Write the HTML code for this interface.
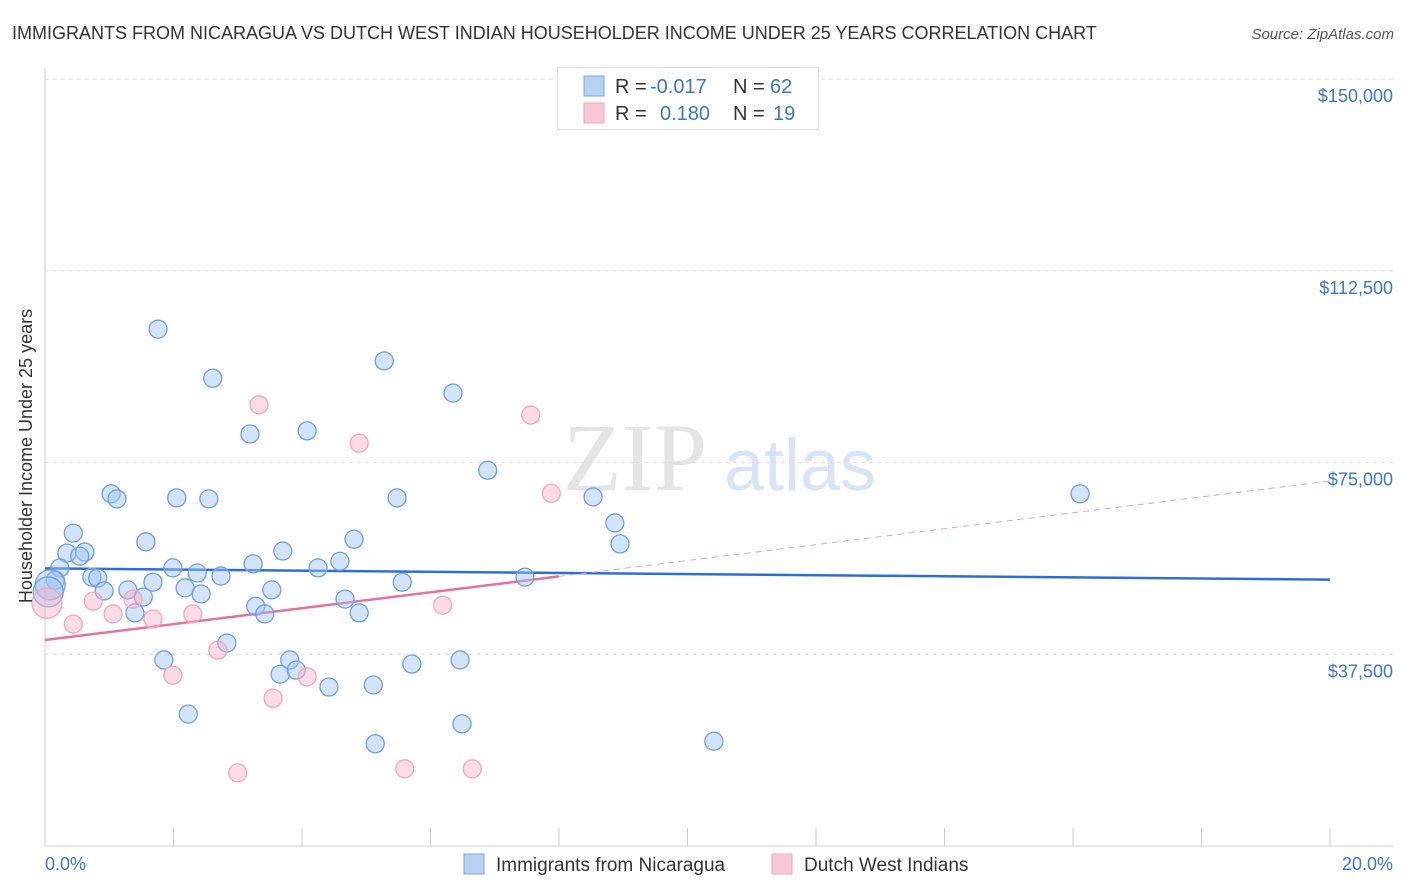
<!DOCTYPE html>
<html><head><meta charset="utf-8"><style>
body{margin:0;background:#fff;font-family:"Liberation Sans",sans-serif;}
svg{display:block}
</style></head><body>
<svg id="chart" width="1406" height="892" xmlns="http://www.w3.org/2000/svg">
<text x="12" y="39" font-size="18" fill="#333">IMMIGRANTS FROM NICARAGUA VS DUTCH WEST INDIAN HOUSEHOLDER INCOME UNDER 25 YEARS CORRELATION CHART</text>
<text x="1394" y="39" font-size="15" fill="#555" font-style="italic" text-anchor="end">Source: ZipAtlas.com</text>
<g><text x="635" y="490" font-size="96" fill="#e4e4e4" font-family="Liberation Serif,serif" text-anchor="middle">ZIP</text><text x="800" y="490" font-size="72" fill="#d6e4f6" text-anchor="middle">atlas</text></g>
<g id="grid"></g><g id="axes"></g><g id="lines"></g><g id="pts"></g>
<text x="32" y="456" font-size="18" fill="#333" text-anchor="middle" transform="rotate(-90 32 456)">Householder Income Under 25 years</text>
<text x="45" y="870" font-size="18" fill="#3a75d0">0.0%</text>
<text x="1393" y="870" font-size="18" fill="#3a75d0" text-anchor="end">20.0%</text>
<g>
<rect x="557.5" y="67.5" width="261" height="62" fill="#fff" stroke="#ddd"/>
<rect x="584" y="76" width="20" height="20" fill="#b8d2f4" stroke="#7aa6e2"/>
<rect x="584" y="103" width="20" height="20" fill="#f8c8d6" stroke="#eea6bc"/>
<text x="615" y="93" font-size="20" fill="#333">R = </text><text x="650" y="93" font-size="20" fill="#3a75d0">-0.017</text>
<text x="733" y="93" font-size="20" fill="#333">N = </text><text x="770" y="93" font-size="20" fill="#3a75d0">62</text>
<text x="615" y="120" font-size="20" fill="#333">R = </text><text x="660" y="120" font-size="20" fill="#3a75d0">0.180</text>
<text x="733" y="120" font-size="20" fill="#333">N = </text><text x="773" y="120" font-size="20" fill="#3a75d0">19</text>
</g>
<g>
<rect x="464" y="854" width="20" height="20" fill="#b8d2f4" stroke="#7aa6e2"/>
<text x="496" y="871" font-size="19" fill="#333">Immigrants from Nicaragua</text>
<rect x="772" y="854" width="20" height="20" fill="#f8c8d6" stroke="#eea6bc"/>
<text x="804" y="871" font-size="19" fill="#333">Dutch West Indians</text>
</g>
</svg>
<script>
const yTicks=[37500,75000,112500,150000];
const yTickLabels=["$37,500","$75,000","$112,500","$150,000"];
const xTicks=[0,2,4,6,8,10,12,14,16,18,20];
const blueX=[1.76,2.61,3.19,4.08,5.28,6.35,6.89,1.03,1.12,2.05,2.55,5.48,8.53,16.11,8.87,0.44,1.57,4.81,8.95,0.34,0.62,0.54,3.70,3.24,4.59,4.25,1.99,0.23,2.37,2.74,0.73,0.82,1.68,5.56,7.47,0.16,0.08,2.18,3.53,1.29,0.92,1.53,2.43,4.67,3.28,3.42,1.40,4.89,2.83,1.85,3.81,6.46,5.71,3.66,3.91,4.42,5.11,2.23,6.49,5.14,10.41,0.05];
const blueY=[101100,91500,80600,81200,94900,88600,73500,68900,67900,68100,67900,68100,68300,68900,63200,61200,59500,60000,59100,57300,57500,56700,57700,55200,55700,54400,54400,54400,53400,52800,52600,52400,51600,51600,52600,52000,51100,50500,50100,50100,49900,48700,49300,48300,46900,45400,45600,45600,39700,36400,36400,36400,35600,33600,34400,31100,31500,25800,23900,20000,20500,49700];
const pinkX=[0.03,0.44,0.75,1.06,1.37,1.68,2.30,2.69,1.99,3.33,4.89,7.56,7.88,6.19,4.08,3.55,3.00,5.60,6.65];
const pinkY=[47500,43400,47900,45400,48300,44400,45400,38300,33400,86300,78800,84300,69000,47100,33100,28900,14300,15100,15100];
const blueTrend=[54300,52100];
const pinkTrend=[40300,71400];
const pinkSolidEnd=8.0;
const X=v=>45+v/20*1285, Y=v=>846-v/37500*191.7;
const NS="http://www.w3.org/2000/svg";
function mk(p,t,a){const e=document.createElementNS(NS,t);for(const k in a)e.setAttribute(k,a[k]);document.getElementById(p).appendChild(e);return e;}
yTicks.forEach((t,i)=>{
 const g=mk('grid','line',{x1:45,x2:1393,y1:Y(t),y2:Y(t),stroke:'#ddd','stroke-dasharray':'4 4'});
 
 
 const l=mk('grid','text',{x:1393,y:Y(t)+23,'font-size':18,fill:'#3a75d0','text-anchor':'end'});
 l.textContent=yTickLabels[i];
 
 
});
const yl=mk('axes','line',{x1:45,x2:45,y1:68,y2:846,stroke:'#ccc'});


const xl=mk('axes','line',{x1:45,x2:1393,y1:846,y2:846,stroke:'#ccc'});


xTicks.forEach(t=>{
 const k=mk('axes','line',{x1:X(t),x2:X(t),y1:828,y2:846,stroke:'#ccc'});
 
 
});
function pt(x,y,cls){
 const big=x<0.1;
 const c=mk('pts','circle',{cx:X(x),cy:Y(y),r:big?15:9,fill:cls=='b'?'rgba(160,196,240,0.45)':'rgba(246,178,200,0.45)',stroke:cls=='b'?'#6f9fe0':'#f0a6bc','stroke-width':1.3});
 return c;
}
blueX.forEach((x,i)=>{const c=pt(x,blueY[i],'b');
 
 });
pinkX.forEach((x,i)=>{const c=pt(x,pinkY[i],'p');
 
 });
const bl=mk('lines','line',{x1:X(0),x2:X(20),y1:Y(blueTrend[0]),y2:Y(blueTrend[1]),stroke:'#2a6fd6','stroke-width':2.5});


const pv=x=>pinkTrend[0]+(pinkTrend[1]-pinkTrend[0])*x/20;
const ps=mk('lines','line',{x1:X(0),x2:X(pinkSolidEnd),y1:Y(pv(0)),y2:Y(pv(pinkSolidEnd)),stroke:'#e8709a','stroke-width':2.5});


const pd=mk('lines','line',{x1:X(pinkSolidEnd),x2:X(20),y1:Y(pv(pinkSolidEnd)),y2:Y(pv(20)),stroke:'#e8a0b8','stroke-width':1,'stroke-dasharray':'6 5'});


</script>
</body></html>
